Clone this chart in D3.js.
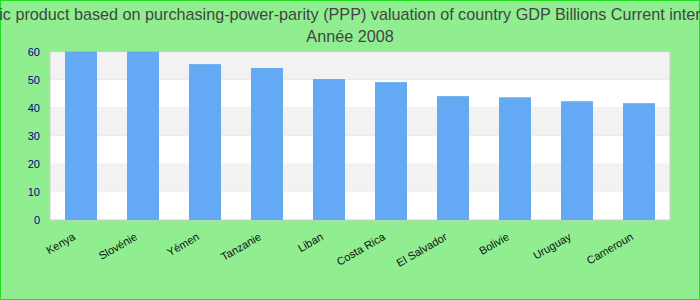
<!DOCTYPE html>
<meta charset="utf-8">
<style>
body { margin: 0; }
svg { display: block; font-family: "Liberation Sans", Arial, sans-serif; }
.title { fill: #444; font-size: 16.2px; text-anchor: middle; }
.ytick text { fill: #00008b; font-size: 11px; }
.xlabel { fill: #111; font-size: 11px; text-anchor: end; }
</style>
<svg width="700" height="300"></svg>
<script src="https://d3js.org/d3.v7.min.js"></script>
<script>

var countries = ["Kenya", "Slovénie", "Yémen", "Tanzanie", "Liban", "Costa Rica", "El Salvador", "Bolivie", "Uruguay", "Cameroun"];
var values = [60.0, 60.0, 55.5, 54.1, 50.2, 49.1, 44.1, 43.7, 42.3, 41.6];
var yTicks = [0, 10, 20, 30, 40, 50, 60];
var titleLines = ["Gross domestic product based on purchasing-power-parity (PPP) valuation of country GDP Billions Current international dollar", "Année 2008"];

var svg = d3.select("svg"),
    width = +svg.attr("width"),
    height = +svg.attr("height"),
    margin = {top: 51.5, right: 30, bottom: 80, left: 50};

svg.append("rect")
    .attr("x", 0.5).attr("y", 0.5)
    .attr("width", width - 1).attr("height", height - 1)
    .attr("fill", "#90ee90")
    .attr("stroke", "#22dd22");

svg.selectAll(".title")
  .data(titleLines)
  .enter().append("text")
    .attr("class", "title")
    .attr("x", width / 2)
    .attr("y", function(d, i) { return 20 + i * 22; })
    .text(function(d) { return d; });

var x = d3.scaleBand()
    .domain(countries)
    .range([margin.left, width - margin.right])
    .paddingInner(0.484)
    .paddingOuter(0.242);

var y = d3.scaleLinear()
    .domain([0, 60])
    .range([height - margin.bottom, margin.top]);

// stripes
var stripes = d3.range(0, 60, 10);
svg.selectAll(".stripe")
  .data(stripes)
  .enter().append("rect")
    .attr("x", margin.left)
    .attr("y", function(d) { return y(d + 10); })
    .attr("width", width - margin.right - margin.left)
    .attr("height", function(d) { return y(d) - y(d + 10); })
    .attr("fill", function(d) { return (d / 10) % 2 ? "#f2f2f2" : "#ffffff"; });

svg.append("rect")
    .attr("x", margin.left)
    .attr("y", margin.top)
    .attr("width", width - margin.right - margin.left)
    .attr("height", y(0) - y(60))
    .attr("fill", "none")
    .attr("stroke", "#cccccc");

svg.selectAll(".bar")
  .data(values)
  .enter().append("rect")
    .attr("class", "bar")
    .attr("x", function(d, i) { return x(countries[i]); })
    .attr("y", function(d) { return y(d); })
    .attr("width", x.bandwidth())
    .attr("height", function(d) { return y(0) - y(d); })
    .attr("fill", "#63a9f3");

var yAxis = svg.append("g")
    .attr("class", "ytick")
    .attr("transform", "translate(" + (margin.left - 10) + ",0)")
    .call(d3.axisLeft(y).tickValues(yTicks).tickSize(0).tickPadding(0));
yAxis.select(".domain").remove();

svg.selectAll(".xlabel")
  .data(countries)
  .enter().append("text")
    .attr("class", "xlabel")
    .attr("transform", function(d) {
      return "translate(" + (x(d) + x.bandwidth() / 2 - 5) + "," + (y(0) + 19) + ") rotate(-30)";
    })
    .text(function(d) { return d; });

</script>
